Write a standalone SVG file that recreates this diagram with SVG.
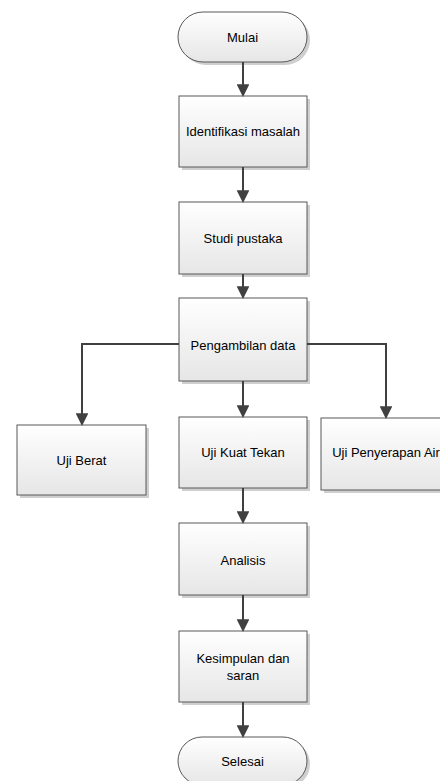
<svg xmlns="http://www.w3.org/2000/svg" width="440" height="781" viewBox="0 0 440 781">
<defs>
<linearGradient id="g" x1="0" y1="0" x2="0" y2="1">
<stop offset="0" stop-color="#ffffff"/>
<stop offset="1" stop-color="#e6e6e6"/>
</linearGradient>
<marker id="ah" markerWidth="6.4" markerHeight="6.4" refX="5.4" refY="3.2" orient="auto" markerUnits="strokeWidth">
<path d="M0,0 L6.4,3.2 L0,6.4 Z" fill="#404040"/>
</marker>
<style>
.box{fill:url(#g);stroke:#595959;stroke-width:1}
.sh{fill:#cfcfcf}
.t{font-family:"Liberation Sans",Arial,sans-serif;font-size:13px;fill:#000;text-anchor:middle;dominant-baseline:central}
.c{fill:none;stroke:#404040;stroke-width:2;marker-end:url(#ah)}
</style>
</defs>
<rect width="440" height="781" fill="#fff"/>
<g id="mulai">
<rect class="sh" x="181" y="15" width="129" height="50" rx="25"/>
<rect class="box" x="178" y="12" width="129" height="50" rx="25"/>
<text class="t" x="242.5" y="37">Mulai</text>
</g>
<g id="identifikasi">
<rect class="sh" x="182" y="99" width="128" height="71"/>
<rect class="box" x="179" y="96" width="128" height="71"/>
<text class="t" x="243" y="131">Identifikasi masalah</text>
</g>
<g id="studi">
<rect class="sh" x="182" y="205" width="128" height="72"/>
<rect class="box" x="179" y="202" width="128" height="72"/>
<text class="t" x="243" y="238">Studi pustaka</text>
</g>
<g id="pengambilan">
<rect class="sh" x="182" y="301" width="128" height="83"/>
<rect class="box" x="179" y="298" width="128" height="83"/>
<text class="t" x="243" y="345">Pengambilan data</text>
</g>
<g id="ujiberat">
<rect class="sh" x="20" y="428" width="129" height="70"/>
<rect class="box" x="17" y="425" width="129" height="70"/>
<text class="t" x="81.5" y="460">Uji Berat</text>
</g>
<g id="ujikuat">
<rect class="sh" x="182" y="420" width="128" height="71"/>
<rect class="box" x="179" y="417" width="128" height="71"/>
<text class="t" x="243" y="452">Uji Kuat Tekan</text>
</g>
<g id="ujipenyerapan">
<rect class="sh" x="324" y="421" width="128" height="72"/>
<rect class="box" x="321" y="418" width="128" height="72"/>
<text class="t" x="386" y="452">Uji Penyerapan Air</text>
</g>
<g id="analisis">
<rect class="sh" x="182" y="526" width="128" height="72"/>
<rect class="box" x="179" y="523" width="128" height="72"/>
<text class="t" x="243" y="560">Analisis</text>
</g>
<g id="kesimpulan">
<rect class="sh" x="182" y="634" width="128" height="71"/>
<rect class="box" x="179" y="631" width="128" height="71"/>
<text class="t" x="243" y="658">Kesimpulan dan</text>
<text class="t" x="243" y="675">saran</text>
</g>
<g id="selesai">
<rect class="sh" x="181" y="740" width="129" height="48" rx="24"/>
<rect class="box" x="178" y="737" width="129" height="48" rx="24"/>
<text class="t" x="242.5" y="761">Selesai</text>
</g>
<g id="connectors">
<path class="c" d="M243,62 V95"/>
<path class="c" d="M243,167 V201"/>
<path class="c" d="M243,274 V297"/>
<path class="c" d="M179,344 H82 V424"/>
<path class="c" d="M307,344 H386 V417"/>
<path class="c" d="M243,381 V416"/>
<path class="c" d="M243,488 V522"/>
<path class="c" d="M243,595 V630"/>
<path class="c" d="M243,702 V736"/>
</g>
</svg>
